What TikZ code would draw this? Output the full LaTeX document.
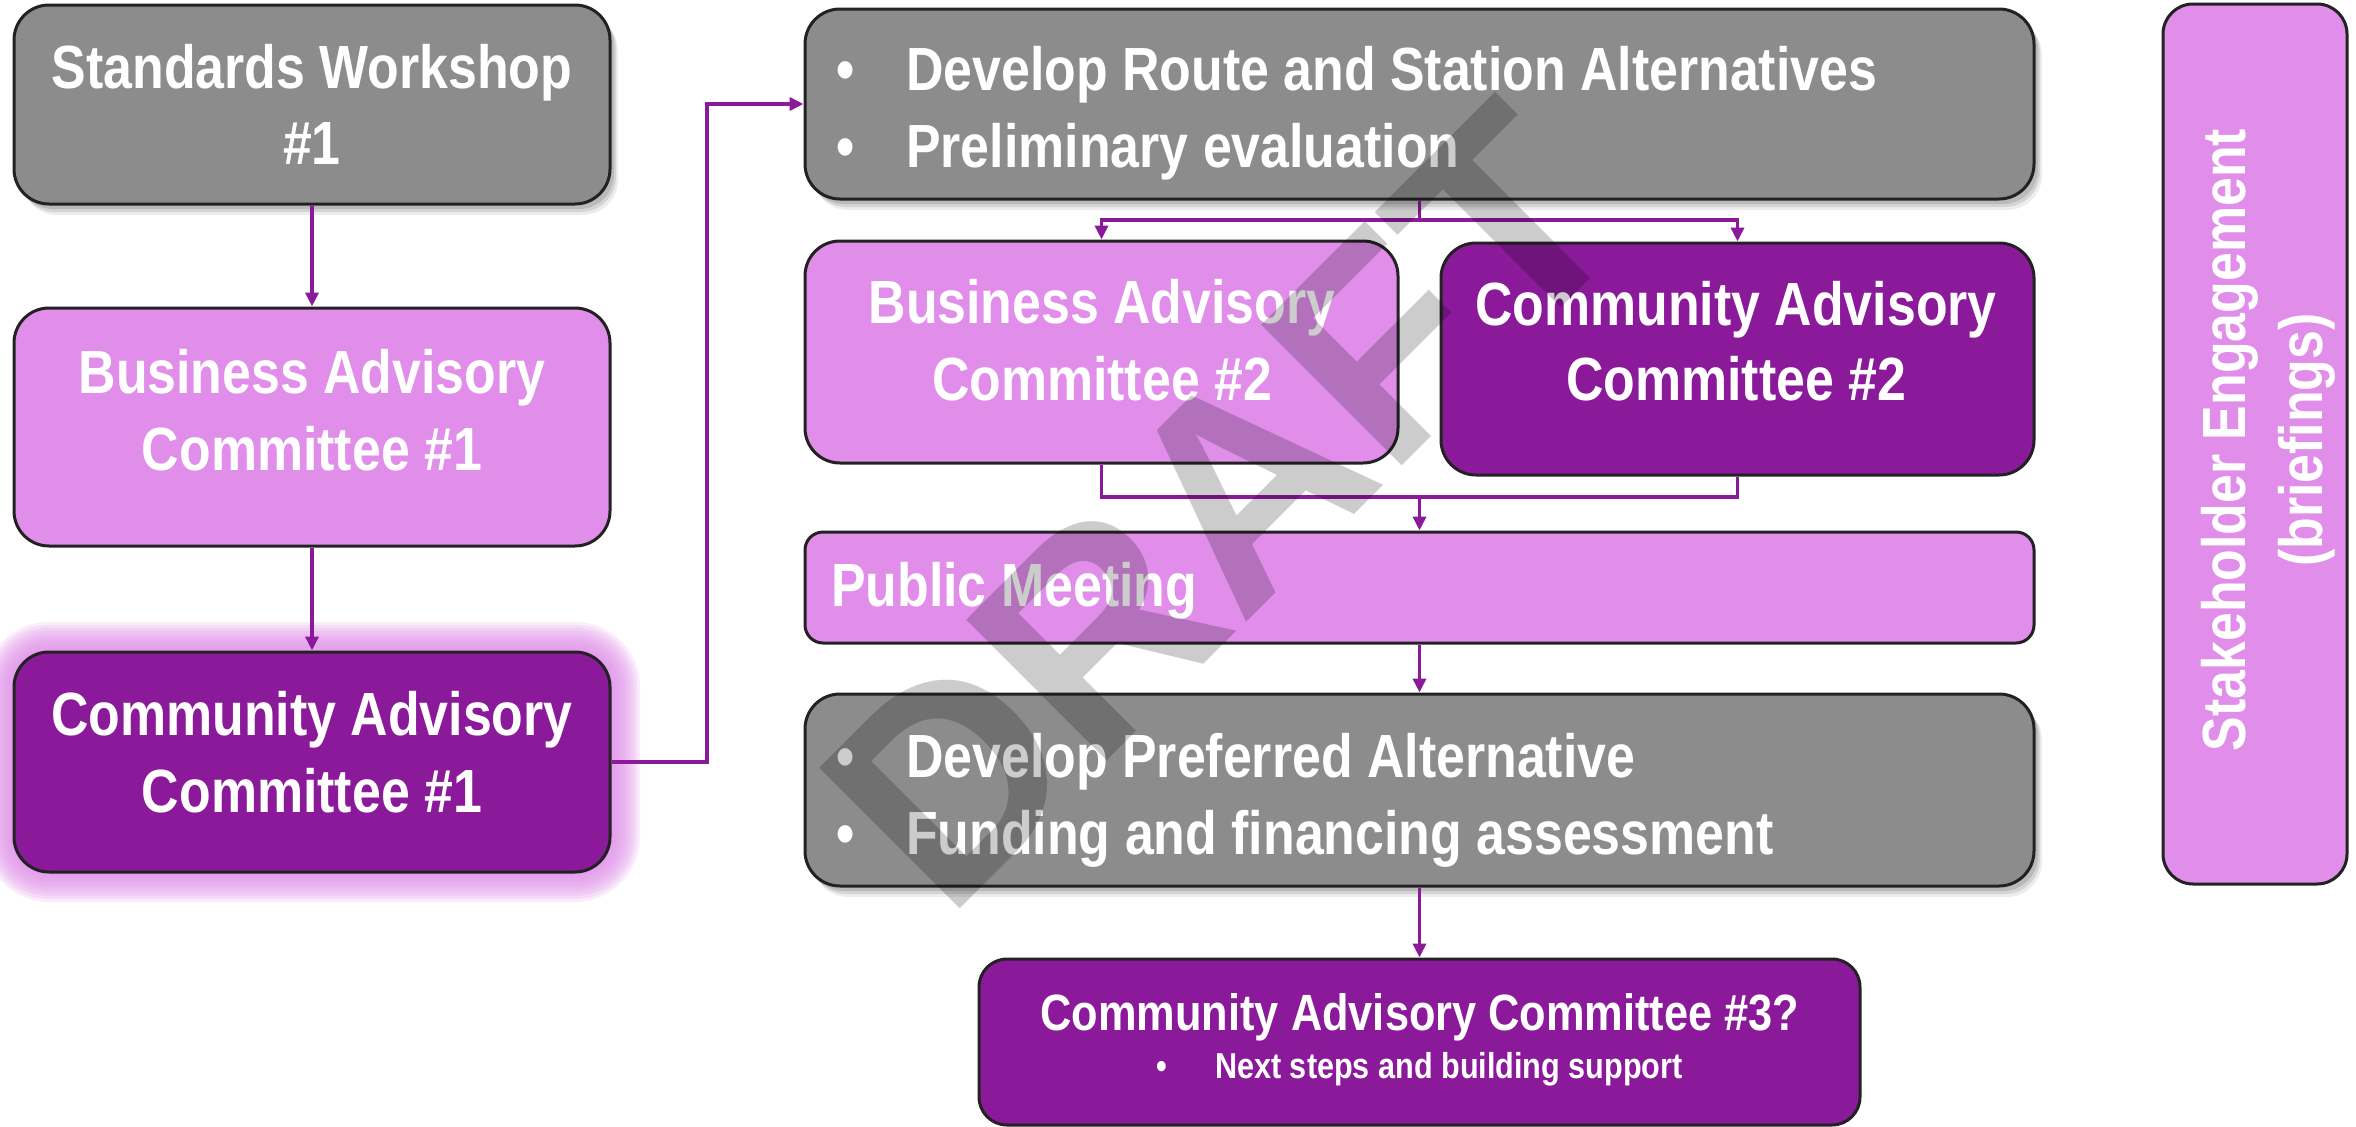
\documentclass[tikz,border=0pt]{standalone}
\usepackage{fontspec}
\newfontfamily\nar{Liberation Sans}[FakeStretch=0.85]
\newfontfamily\wmfont{Liberation Sans}
\usetikzlibrary{arrows.meta,shadows}
\definecolor{boxgray}{HTML}{8C8C8C}
\definecolor{lpurp}{HTML}{E08EEA}
\definecolor{dpurp}{HTML}{8B1A9A}
\definecolor{edgecol}{HTML}{222222}
\begin{document}
\begin{tikzpicture}[x=1pt,y=-1pt,
  box/.style={draw=edgecol, line width=3pt, rounded corners=35pt, inner sep=0pt},
  graybox/.style={box, fill=boxgray,
    drop shadow={shadow xshift=8pt, shadow yshift=-11pt, opacity=0.07, fill=black},
    drop shadow={shadow xshift=6pt, shadow yshift=-8pt, opacity=0.10, fill=black},
    drop shadow={shadow xshift=4pt, shadow yshift=-5pt, opacity=0.12, fill=black}},
  lightbox/.style={box, fill=lpurp},
  darkbox/.style={box, fill=dpurp},
  conn/.style={draw=dpurp, line width=3.5pt},
  arr/.style={conn, -{Triangle[length=14pt,width=13pt]}},
  big/.style={text=white, inner sep=0pt, font=\nar\bfseries\fontsize{61}{77}\selectfont},
  mid/.style={text=white, inner sep=0pt, font=\nar\bfseries\fontsize{51}{60}\selectfont},
  small/.style={text=white, inner sep=0pt, font=\nar\bfseries\fontsize{36}{44}\selectfont},
  wm/.style={text=black, text opacity=0.2, inner sep=0pt, font=\wmfont\bfseries\fontsize{289}{289}\selectfont}
]
\useasboundingbox[fill=white] (0,0) rectangle (2356,1127);

% glow around CAC #1
\foreach \i in {1,...,10}{
  \fill[lpurp, opacity=0.16, rounded corners={35+3*\i}] ({14-3*\i},{652-3*\i}) rectangle ({610+3*\i},{872+3*\i});
}

% boxes
\node[graybox, minimum width=596pt, minimum height=199pt] (sw) at (312,104.5) {};
\node[lightbox, minimum width=596pt, minimum height=238pt] (bac1) at (312,427) {};
\node[darkbox, minimum width=596pt, minimum height=220pt] (cac1) at (312,762) {};
\node[graybox, minimum width=1229pt, minimum height=190pt] (dev1) at (1419.5,104) {};
\node[lightbox, minimum width=593pt, minimum height=222pt] (bac2) at (1101.5,352) {};
\node[darkbox, minimum width=593pt, minimum height=232pt] (cac2) at (1737.5,359) {};
\node[lightbox, rounded corners=18pt, minimum width=1229pt, minimum height=111pt] (pm) at (1419.5,587.5) {};
\node[graybox, minimum width=1229pt, minimum height=192pt] (dp) at (1419.5,790) {};
\node[darkbox, rounded corners=28pt, minimum width=881pt, minimum height=166pt] (cac3) at (1419.5,1042) {};
\node[lightbox, rounded corners=30pt, minimum width=184pt, minimum height=880pt] (stake) at (2255,444) {};

% texts
\node[big, anchor=base] (tsw1) at (312,88) {Standards Workshop};
\node[big, anchor=base] (tsw2) at (312,164) {\#1};
\node[big, anchor=base] (tbac1a) at (312,393) {Business Advisory};
\node[big, anchor=base] (tbac1b) at (312,470) {Committee \#1};
\node[big, anchor=base] (tcac1a) at (312,735) {Community Advisory};
\node[big, anchor=base] (tcac1b) at (312,812) {Committee \#1};
\node[big, anchor=base west] (tdev1a) at (836,90) {\makebox[70pt][l]{•}Develop Route and Station Alternatives};
\node[big, anchor=base west] (tdev1b) at (836,167) {\makebox[70pt][l]{•}Preliminary evaluation};
\node[big, anchor=base] (tbac2a) at (1102,323) {Business Advisory};
\node[big, anchor=base] (tbac2b) at (1102,400) {Committee \#2};
\node[big, anchor=base] (tcac2a) at (1736,325) {Community Advisory};
\node[big, anchor=base] (tcac2b) at (1736,400) {Committee \#2};
\node[big, anchor=base west] (tpm) at (831,606) {Public Meeting};
\node[big, anchor=base west] (tdpa) at (836,777) {\makebox[70pt][l]{•}Develop Preferred Alternative};
\node[big, anchor=base west] (tdpb) at (836,854) {\makebox[70pt][l]{•}Funding and financing assessment};
\node[mid, anchor=base] (tcac3a) at (1420,1030) {Community Advisory Committee \#3?};
\node[small, anchor=base west] (tcac3b) at (1156,1078) {\makebox[59pt][l]{•}Next steps and building support};
\node[big, rotate=90, anchor=base] (tst1) at (2245,440) {Stakeholder Engagement};
\node[big, rotate=90, anchor=base] (tst2) at (2322,440) {(briefings)};

% connectors
\draw[arr] (sw) -- (bac1);
\draw[arr] (bac1) -- (cac1);
\coordinate (j1) at (707,104);
\draw[arr] (cac1.east) -| (j1) -- (dev1.west);
\coordinate (f1) at (1419.5,220);
\draw[conn] (dev1.south) -- (f1);
\draw[arr] (f1) -| (bac2.north);
\draw[arr] (f1) -| (cac2.north);
\coordinate (m1) at (1419.5,497);
\draw[conn] (bac2.south) |- (m1);
\draw[conn] (cac2.south) |- (m1);
\draw[arr] (m1) -- (pm.north);
\draw[arr] (pm) -- (dp);
\draw[arr] (dp) -- (cac3);

% watermark
\node[wm, rotate=45] (draft) at (1222,506) {DRAFT};
\end{tikzpicture}
\end{document}
